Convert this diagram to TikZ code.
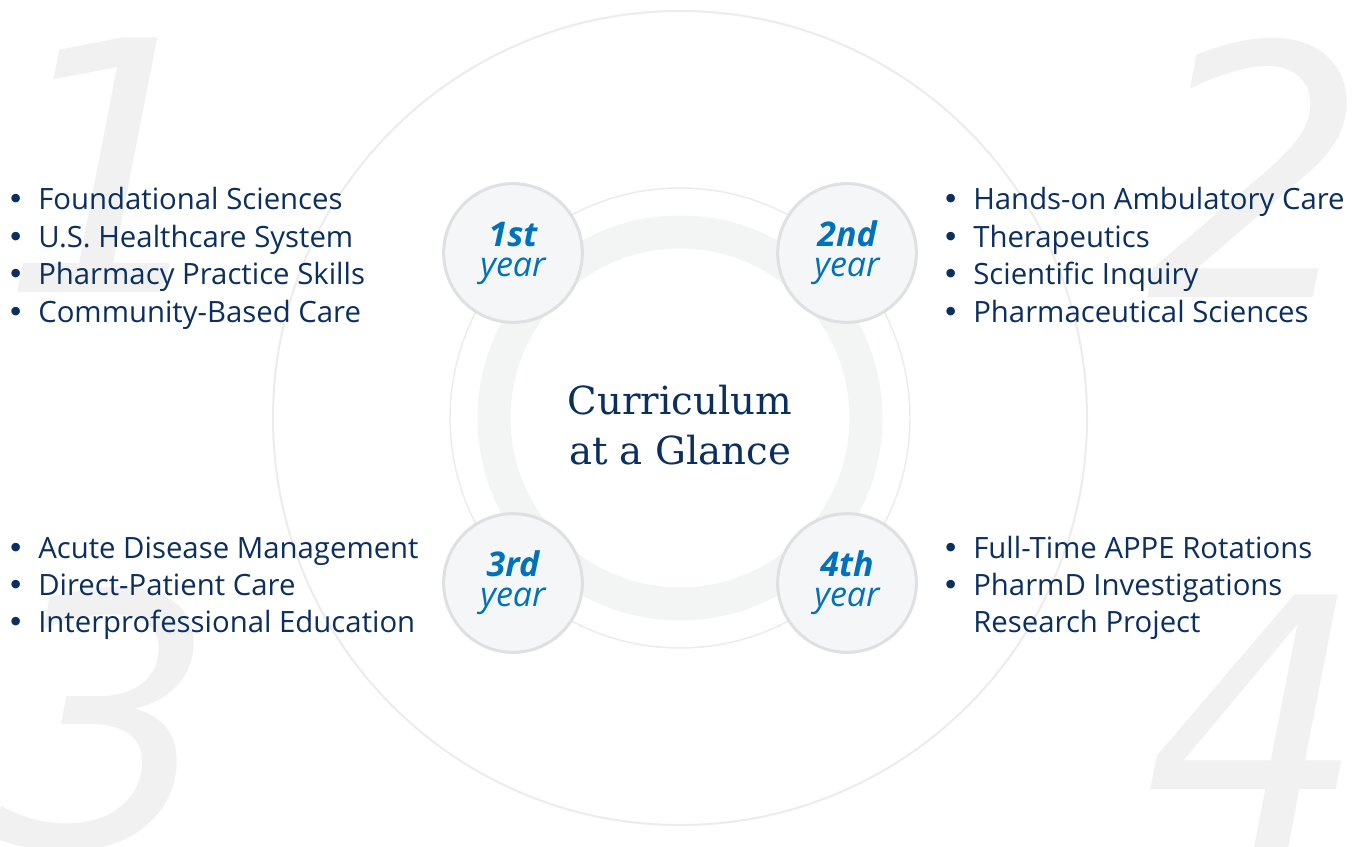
\documentclass[tikz,border=0pt]{standalone}
\usepackage{fontspec}
\setmainfont{Open Sans}
\newfontfamily\titlefont{DejaVu Serif}
\newfontfamily\digitfont{DejaVu Sans}
\usepackage{xcolor}

\definecolor{navy}{HTML}{0B2F5E}
\definecolor{yearblue}{HTML}{0072BC}
\definecolor{ringgray}{HTML}{F3F4F4}
\definecolor{linegray}{HTML}{ECECEC}
\definecolor{digitgray}{HTML}{F1F1F1}
\definecolor{dotfill}{HTML}{F5F6F7}
\definecolor{dotline}{HTML}{DFE0E2}

\tikzset{
  item/.style={anchor=base west, inner sep=0pt, text=navy,
    font=\fontsize{22}{26}\selectfont,
    execute at begin node={\llap{{\digitfont\textbullet}\hspace{10pt}}}},
  itemcont/.style={anchor=base west, inner sep=0pt, text=navy,
    font=\fontsize{22}{26}\selectfont},
  yearcircle/.style={circle, minimum size=104pt, inner sep=0pt,
    fill=dotfill, draw=dotline, line width=2.25pt, text=yearblue,
    align=center, font=\fontsize{25.5}{22.5}\selectfont\itshape},
  bignum/.style={anchor=base, inner sep=0pt, text=digitgray,
    font=\fontsize{262}{262}\selectfont\digitfont\itshape},
  title/.style={align=center, inner sep=0pt, text=navy,
    font=\fontsize{29}{38}\selectfont\titlefont}
}

\begin{document}
\begin{tikzpicture}[x=0.75pt, y=-0.75pt]
    \useasboundingbox (0,0) rectangle (1362,846);
    \fill[white] (0,0) rectangle (1362,846);

    \node[bignum] (n1) at (112,292) {1};
    \node[bignum] (n2) at (1258,297) {2};
    \node[bignum] (n3) at (106,846) {3};
    \node[bignum] (n4) at (1256,849) {4};

    \coordinate (c) at (680,418);
    \draw[linegray, line width=1.5pt] (c) circle[radius=305.25pt];
    \draw[linegray, line width=1.1pt] (c) circle[radius=172.5pt];
    \draw[ringgray, line width=24.75pt] (c) circle[radius=139.5pt];

    \node[yearcircle] (y1) at (513,253) {\textbf{1st}\\year};
    \node[yearcircle] (y2) at (847,253) {\textbf{2nd}\\year};
    \node[yearcircle] (y3) at (513,583) {\textbf{3rd}\\year};
    \node[yearcircle] (y4) at (847,583) {\textbf{4th}\\year};

    \node[title] (t) at (680,425) {Curriculum\\at a Glance};

    \node[item] (a1) at (38,209) {Foundational Sciences};
    \node[item] (a2) at (38,247) {U.S. Healthcare System};
    \node[item] (a3) at (38,284) {Pharmacy Practice Skills};
    \node[item] (a4) at (38,322) {Community-Based Care};

    \node[item] (b1) at (973,209) {Hands-on Ambulatory Care};
    \node[item] (b2) at (973,247) {Therapeutics};
    \node[item] (b3) at (973,284) {Scientific Inquiry};
    \node[item] (b4) at (973,322) {Pharmaceutical Sciences};

    \node[item] (c1) at (38,558) {Acute Disease Management};
    \node[item] (c2) at (38,595) {Direct-Patient Care};
    \node[item] (c3) at (38,632) {Interprofessional Education};

    \node[item] (d1) at (973,558) {Full-Time APPE Rotations};
    \node[item] (d2) at (973,595) {PharmD Investigations};
    \node[itemcont] (d3) at (973,632) {Research Project};
\end{tikzpicture}
\end{document}
